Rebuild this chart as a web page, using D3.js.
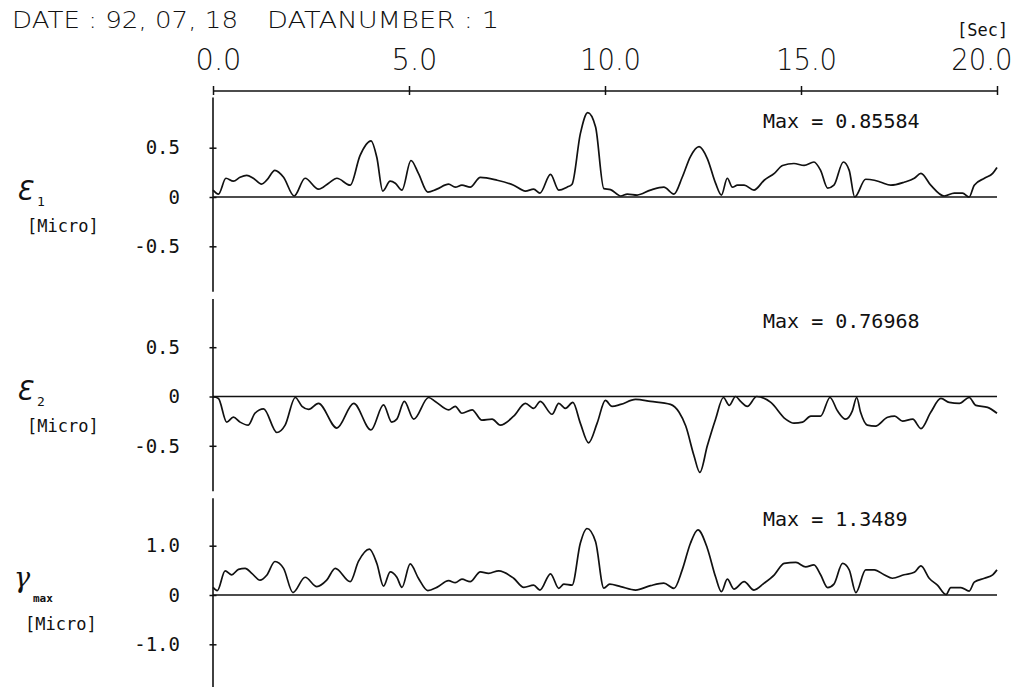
<!DOCTYPE html>
<html>
<head>
<meta charset="utf-8" />
<script src="https://d3js.org/d3.v7.min.js"></script>
<style>
    body { margin: 0; background: #fff; }
    svg { display: block; }
    text { fill: #111; font-family: "DejaVu Sans Mono", monospace; }
    .fin { font-family: "DejaVu Sans", sans-serif; font-weight: 200; }
</style>
</head>
<body>
<div id="visu"></div>
<script>

// Dimensions
const largeur = 1024;
const hauteur = 687;

// Donnees : [temps (s), valeur (micro)]
const ticksTemps = [0, 5, 10, 15, 20];
const ticksEps = [0.5, 0, -0.5];
const ticksGamma = [1.0, 0, -1.0];
const textesMax = ["Max = 0.85584", "Max = 0.76968", "Max = 1.3489"];

const eps1 = [[0.00,0.07],[0.14,0.03],[0.33,0.19],[0.52,0.16],[0.69,0.20],[0.86,0.22],[1.03,0.19],[1.24,0.13],[1.37,0.17],
    [1.58,0.27],[1.80,0.20],[2.07,0.01],[2.35,0.19],[2.69,0.08],[2.95,0.14],[3.16,0.19],[3.50,0.12],[3.75,0.42],[4.03,0.57],
    [4.18,0.40],[4.33,0.06],[4.52,0.16],[4.65,0.14],[4.82,0.07],[5.05,0.37],[5.24,0.24],[5.48,0.05],[5.71,0.08],[6.01,0.13],
    [6.18,0.10],[6.35,0.12],[6.56,0.10],[6.82,0.20],[7.25,0.17],[7.67,0.12],[7.97,0.06],[8.18,0.08],[8.34,0.04],[8.61,0.23],
    [8.82,0.07],[9.03,0.10],[9.16,0.13],[9.37,0.64],[9.56,0.856],[9.76,0.71],[9.97,0.085],[10.14,0.075],[10.40,0.01],
    [10.57,0.03],[10.82,0.02],[11.16,0.07],[11.50,0.10],[11.76,0.03],[11.97,0.20],[12.18,0.41],[12.40,0.51],[12.61,0.39],
    [12.82,0.14],[12.97,0.02],[13.12,0.19],[13.25,0.10],[13.38,0.12],[13.55,0.12],[13.80,0.07],[14.06,0.17],[14.32,0.24],
    [14.53,0.32],[14.82,0.34],[15.08,0.32],[15.33,0.355],[15.50,0.27],[15.68,0.09],[15.84,0.12],[16.08,0.355],[16.23,0.27],
    [16.37,0.00],[16.65,0.18],[16.87,0.17],[17.04,0.15],[17.29,0.12],[17.63,0.15],[17.89,0.19],[18.06,0.24],[18.31,0.12],
    [18.65,0.01],[18.91,0.04],[19.12,0.04],[19.29,0.00],[19.42,0.12],[19.68,0.19],[19.89,0.24],[20.00,0.30]];

const eps2 = [[0.00,0.00],[0.14,-0.02],[0.35,-0.26],[0.52,-0.21],[0.69,-0.26],[0.90,-0.29],[1.07,-0.17],[1.29,-0.125],
    [1.63,-0.365],[1.84,-0.29],[2.10,-0.01],[2.27,-0.10],[2.44,-0.13],[2.69,-0.07],[3.16,-0.32],[3.59,-0.07],[4.03,-0.34],
    [4.35,-0.085],[4.56,-0.26],[4.69,-0.23],[4.88,-0.05],[5.12,-0.23],[5.50,-0.01],[5.67,-0.05],[6.01,-0.135],[6.18,-0.10],
    [6.35,-0.17],[6.61,-0.135],[6.86,-0.24],[7.12,-0.23],[7.33,-0.29],[7.67,-0.20],[7.97,-0.07],[8.18,-0.12],[8.35,-0.05],
    [8.65,-0.18],[8.82,-0.07],[8.99,-0.12],[9.18,-0.06],[9.37,-0.27],[9.58,-0.47],[9.80,-0.27],[10.01,-0.04],[10.18,-0.10],
    [10.40,-0.08],[10.78,-0.03],[11.16,-0.05],[11.67,-0.08],[11.89,-0.16],[12.06,-0.30],[12.27,-0.60],[12.42,-0.77],
    [12.61,-0.50],[12.82,-0.23],[13.02,-0.01],[13.17,-0.09],[13.33,0.00],[13.46,-0.05],[13.63,-0.10],[13.87,0.00],
    [14.23,-0.06],[14.61,-0.23],[14.82,-0.27],[15.04,-0.26],[15.25,-0.20],[15.50,-0.20],[15.74,-0.01],[15.93,-0.145],
    [16.14,-0.23],[16.31,-0.145],[16.42,-0.01],[16.52,-0.16],[16.69,-0.29],[16.90,-0.30],[17.21,-0.21],[17.39,-0.20],
    [17.59,-0.25],[17.85,-0.23],[18.06,-0.325],[18.31,-0.16],[18.57,-0.02],[18.78,-0.06],[19.04,-0.07],[19.29,-0.01],
    [19.46,-0.09],[19.76,-0.11],[20.00,-0.17]];

const gammaMax = [[0.00,0.155],[0.11,0.09],[0.31,0.49],[0.48,0.41],[0.65,0.52],[0.82,0.54],[0.99,0.44],[1.20,0.30],[1.37,0.40],
    [1.58,0.68],[1.80,0.54],[2.04,0.05],[2.35,0.36],[2.65,0.17],[2.90,0.30],[3.12,0.54],[3.50,0.27],[3.71,0.68],[3.99,0.93],
    [4.18,0.64],[4.35,0.18],[4.52,0.47],[4.69,0.36],[4.82,0.155],[5.03,0.63],[5.24,0.34],[5.48,0.09],[5.71,0.155],[6.01,0.29],
    [6.18,0.25],[6.35,0.32],[6.56,0.27],[6.82,0.47],[7.03,0.44],[7.29,0.49],[7.67,0.34],[7.93,0.155],[8.18,0.20],[8.34,0.10],
    [8.61,0.43],[8.82,0.135],[8.95,0.22],[9.16,0.20],[9.37,1.05],[9.54,1.349],[9.76,1.08],[9.97,0.14],[10.12,0.22],[10.40,0.17],
    [10.78,0.10],[11.16,0.19],[11.50,0.24],[11.76,0.135],[11.97,0.51],[12.18,1.05],[12.37,1.32],[12.61,0.95],[12.82,0.37],
    [12.97,0.07],[13.12,0.32],[13.29,0.12],[13.55,0.27],[13.80,0.10],[14.06,0.24],[14.32,0.41],[14.57,0.64],[14.87,0.66],
    [15.12,0.57],[15.33,0.61],[15.50,0.41],[15.68,0.15],[15.84,0.22],[16.06,0.64],[16.23,0.51],[16.40,0.05],[16.65,0.51],
    [16.87,0.51],[17.12,0.41],[17.33,0.34],[17.63,0.41],[17.89,0.46],[18.06,0.59],[18.27,0.34],[18.48,0.20],[18.70,0.01],
    [18.82,0.15],[19.08,0.15],[19.29,0.08],[19.42,0.26],[19.68,0.34],[19.89,0.41],[20.00,0.51]];

// Mise en page des trois panneaux
const panneaux = [
    { data: eps1, ticks: ticksEps, max: textesMax[0], zero: 197, etendue: 1, bornes: [-0.96, 1.01], symbole: "\u0190", indice: "1" },
    { data: eps2, ticks: ticksEps, max: textesMax[1], zero: 396.5, etendue: 1, bornes: [-0.96, 0.99], symbole: "\u0190", indice: "2" },
    { data: gammaMax, ticks: ticksGamma, max: textesMax[2], zero: 595, etendue: 2, bornes: [-1.95, 1.96], symbole: "\u03B3", indice: "max" }
];

const svg = d3.select('#visu')
    .append('svg')
    .attr('width', largeur)
    .attr('height', hauteur);

// Echelle du temps
const x = d3.scaleLinear().domain([0, 20]).range([213, 997]);

// Titre
svg.append('text')
    .attr('class', 'fin')
    .attr('x', 12).attr('y', 28)
    .attr('font-size', 23)
    .attr('textLength', 226).attr('lengthAdjust', 'spacingAndGlyphs')
    .text('DATE :  92, 07, 18');
svg.append('text')
    .attr('class', 'fin')
    .attr('x', 267).attr('y', 28)
    .attr('font-size', 23)
    .attr('textLength', 232).attr('lengthAdjust', 'spacingAndGlyphs')
    .text('DATANUMBER :  1');

svg.append('text')
    .attr('x', 957).attr('y', 36)
    .attr('font-size', 17)
    .text('[Sec]');

// Axe du temps en haut
const axeX = d3.axisTop(x)
    .tickValues(ticksTemps)
    .tickFormat(d3.format('.1f'))
    .tickSizeInner(4)
    .tickSizeOuter(0)
    .tickPadding(16.5);

const gX = svg.append('g')
    .attr('transform', 'translate(0, 90.5)')
    .call(axeX);
gX.select('.domain').attr('stroke', '#111').attr('stroke-width', 1.5);
gX.selectAll('.tick line').attr('y1', 4.5).attr('y2', -4.5).attr('stroke', '#111').attr('stroke-width', 1.5);
gX.selectAll('.tick text')
    .attr('class', 'fin')
    .attr('font-size', 31)
    .attr('font-family', null)
    .attr('fill', '#111')
    .attr('text-anchor', 'start')
    .each(function(d, i) {
        const lab = d3.format('.1f')(d);
        const long = lab.length * 15.3;
        const dernier = i === ticksTemps.length - 1;
        const x0 = dernier ? 1012 - long - x(d) : 5 - long / 2;
        d3.select(this).attr('x', x0).attr('textLength', long).attr('lengthAdjust', 'spacingAndGlyphs');
    });

panneaux.forEach((p, i) => {
    const y = d3.scaleLinear()
        .domain([-p.etendue, p.etendue])
        .range([p.zero + 98.6, p.zero - 98.6]);

    const g = svg.append('g');

    // axe vertical
    g.append('line')
        .attr('x1', x(0)).attr('x2', x(0))
        .attr('y1', y(p.bornes[1])).attr('y2', y(p.bornes[0]))
        .attr('stroke', '#111').attr('stroke-width', 1.6);

    const axeY = d3.axisLeft(y)
        .tickValues(p.ticks)
        .tickFormat(d => d === 0 ? '0' : d.toFixed(1))
        .tickSizeInner(4)
        .tickSizeOuter(0)
        .tickPadding(29);

    const gY = g.append('g')
        .attr('transform', `translate(${x(0)}, 0)`)
        .call(axeY);
    gY.select('.domain').remove();
    gY.selectAll('.tick line').attr('x1', 3.5).attr('x2', -3.5).attr('stroke', '#111').attr('stroke-width', 1.5);
    gY.selectAll('.tick text')
        .attr('font-size', 19)
        .attr('font-family', '"DejaVu Sans Mono", monospace')
        .attr('fill', '#111')
        .attr('dy', '0.33em');

    // ligne du zero
    g.append('line')
        .attr('x1', x(0)).attr('x2', x(20))
        .attr('y1', y(0)).attr('y2', y(0))
        .attr('stroke', '#111').attr('stroke-width', 1.7);

    // courbe
    const ligne = d3.line()
        .x(d => x(d[0]))
        .y(d => y(d[1]))
        .curve(d3.curveMonotoneX);

    g.append('path')
        .datum(p.data)
        .attr('d', ligne)
        .attr('fill', 'none')
        .attr('stroke', '#111')
        .attr('stroke-width', 1.7)
        .attr('stroke-linejoin', 'round');

    // texte Max
    g.append('text')
        .attr('x', 763).attr('y', y(0) - 69)
        .attr('font-size', 20)
        .text(p.max);

    // nom de la grandeur
    if (p.indice === 'max') {
        g.append('text')
            .attr('x', 14).attr('y', y(0) - 8)
            .attr('font-size', 27)
            .attr('font-style', 'italic')
            .style('font-family', '"DejaVu Serif", serif')
            .text(p.symbole);
        g.append('text')
            .attr('x', 33).attr('y', y(0) + 7)
            .attr('font-size', 11)
            .attr('font-weight', 'bold')
            .text(p.indice);
    } else {
        g.append('text')
            .attr('x', 16).attr('y', y(0) + 3)
            .attr('font-size', 26)
            .attr('font-style', 'italic')
            .style('font-family', '"DejaVu Sans", sans-serif')
            .text(p.symbole);
        g.append('text')
            .attr('x', 37).attr('y', y(0) + 9)
            .attr('font-size', 13)
            .text(p.indice);
    }
    g.append('text')
        .attr('x', p.indice === 'max' ? 25 : 27).attr('y', y(0) + 35)
        .attr('font-size', 17)
        .text('[Micro]');
});

</script>
</body>
</html>
